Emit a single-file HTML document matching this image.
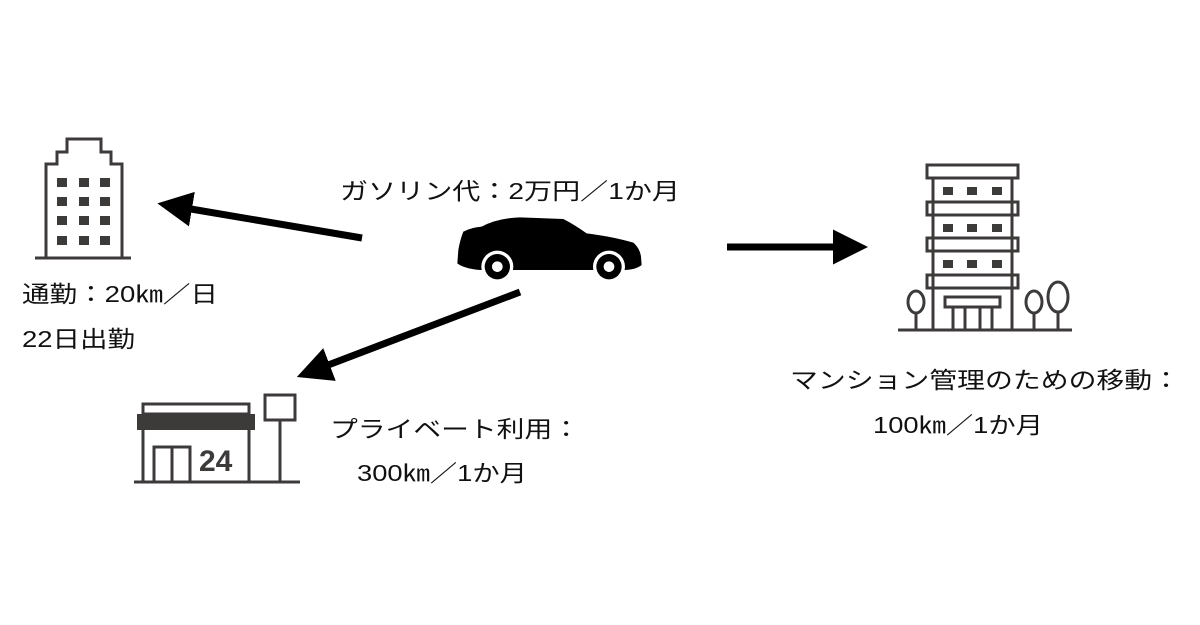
<!DOCTYPE html>
<html><head><meta charset="utf-8"><style>
html,body{margin:0;padding:0;background:#fff;width:1200px;height:625px;overflow:hidden}
svg{display:block}
text{font-family:"Liberation Sans","Noto Sans CJK JP",sans-serif;font-size:23px;fill:#111}
</style></head><body>
<svg width="1200" height="625" viewBox="0 0 1200 625" xmlns="http://www.w3.org/2000/svg">
<defs>
<marker id="ah" markerWidth="5" markerHeight="5" refX="1" refY="2.5" orient="auto" markerUnits="strokeWidth">
<path d="M0,0 L5,2.5 L0,5 z" fill="#000"/></marker>
</defs>
<!-- left office building -->
<g fill="none" stroke="#3d3a3a" stroke-width="3">
<path d="M46,258 V164 H57 V152 H67 V139 H101 V152 H111 V164 H122 V258"/>
<line x1="35" y1="258" x2="131" y2="258"/>
</g>
<g fill="#3d3a3a">
<rect x="57" y="178" width="10" height="9"/><rect x="79" y="178" width="10" height="9"/><rect x="100" y="178" width="10" height="9"/>
<rect x="57" y="197" width="10" height="9"/><rect x="79" y="197" width="10" height="9"/><rect x="100" y="197" width="10" height="9"/>
<rect x="57" y="216" width="10" height="9"/><rect x="79" y="216" width="10" height="9"/><rect x="100" y="216" width="10" height="9"/>
<rect x="57" y="236" width="10" height="9"/><rect x="79" y="236" width="10" height="9"/><rect x="100" y="236" width="10" height="9"/>
</g>
<!-- car -->
<g transform="translate(440,200) scale(0.3333)">
<path d="M70,95 Q95,82 125,80 Q170,55 240,52 L370,57 Q400,72 440,100 Q520,110 580,128 Q600,145 603,170 L605,195 Q590,208 555,210 L120,210 Q70,205 52,190 L55,150 Q60,120 70,95 z" fill="#000"/>
<circle cx="172" cy="200" r="48" fill="#fff"/>
<circle cx="507" cy="200" r="48" fill="#fff"/>
<circle cx="172" cy="200" r="38" fill="#000"/>
<circle cx="507" cy="200" r="38" fill="#000"/>
<circle cx="172" cy="200" r="16" fill="#fff"/>
<circle cx="507" cy="200" r="16" fill="#fff"/>
</g>
<!-- arrows -->
<g stroke="#000" stroke-width="7" fill="none">
<line x1="362" y1="238" x2="185" y2="208" marker-end="url(#ah)"/>
<line x1="520" y1="292" x2="323" y2="367" marker-end="url(#ah)"/>
<line x1="727" y1="247" x2="840" y2="247" marker-end="url(#ah)"/>
</g>
<!-- convenience store -->
<g fill="none" stroke="#3d3a3a" stroke-width="3">
<rect x="143" y="404" width="106" height="10"/>
<line x1="143" y1="428" x2="143" y2="482"/>
<line x1="249" y1="428" x2="249" y2="482"/>
<line x1="134" y1="482" x2="300" y2="482"/>
<path d="M154,482 V447 H190 V482 M172,447 V482"/>
<rect x="265" y="395" width="30" height="25"/>
<line x1="280" y1="420" x2="280" y2="482"/>
</g>
<rect x="137" y="414" width="118" height="16" fill="#3d3a3a"/>
<text x="199" y="471" style="font-size:30px;font-weight:bold;fill:#3d3a3a">24</text>
<!-- right apartment -->
<g fill="none" stroke="#3d3a3a" stroke-width="3">
<rect x="927" y="165" width="91" height="13"/>
<rect x="927" y="202" width="91" height="13"/>
<rect x="927" y="238" width="91" height="13"/>
<rect x="927" y="275" width="91" height="13"/>
<line x1="933" y1="178" x2="933" y2="330"/>
<line x1="1012" y1="178" x2="1012" y2="330"/>
<rect x="945" y="297" width="55" height="10"/>
<path d="M953,307 V330 M965,307 V330 M980,307 V330 M992,307 V330"/>
<line x1="898" y1="330" x2="1072" y2="330"/>
<ellipse cx="916" cy="302" rx="8" ry="11"/><line x1="916" y1="313" x2="916" y2="330"/>
<ellipse cx="1034" cy="302" rx="8" ry="11"/><line x1="1034" y1="313" x2="1034" y2="330"/>
<ellipse cx="1058" cy="297" rx="10" ry="15"/><line x1="1058" y1="312" x2="1058" y2="330"/>
</g>
<g fill="#3d3a3a">
<rect x="943" y="187" width="10" height="8"/><rect x="967" y="187" width="10" height="8"/><rect x="992" y="187" width="10" height="8"/>
<rect x="943" y="224" width="10" height="8"/><rect x="967" y="224" width="10" height="8"/><rect x="992" y="224" width="10" height="8"/>
<rect x="943" y="260" width="10" height="8"/><rect x="967" y="260" width="10" height="8"/><rect x="992" y="260" width="10" height="8"/>
</g>
<!-- labels -->
<text x="340" y="199" textLength="340" lengthAdjust="spacingAndGlyphs">ガソリン代：2万円／1か月</text>
<text x="22" y="302" textLength="196" lengthAdjust="spacingAndGlyphs">通勤：20㎞／日</text>
<text x="22" y="347" textLength="113" lengthAdjust="spacingAndGlyphs">22日出勤</text>
<text x="330" y="437" textLength="250" lengthAdjust="spacingAndGlyphs">プライベート利用：</text>
<text x="357" y="481" textLength="170" lengthAdjust="spacingAndGlyphs">300㎞／1か月</text>
<text x="790" y="388" textLength="390" lengthAdjust="spacingAndGlyphs">マンション管理のための移動：</text>
<text x="873" y="433" textLength="170" lengthAdjust="spacingAndGlyphs">100㎞／1か月</text>
</svg>
</body></html>
